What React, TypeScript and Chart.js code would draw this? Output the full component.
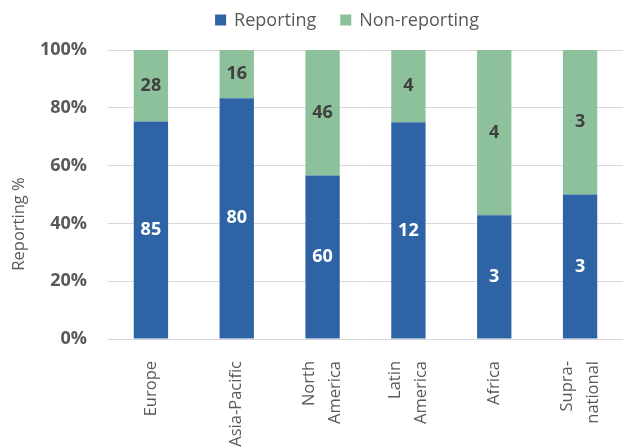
import React, { useEffect, useRef } from "react";
import { Chart, registerables } from "chart.js";

Chart.register(...registerables);

const categories: string[][] = [
  ["Europe"],
  ["Asia-Pacific"],
  ["North", "America"],
  ["Latin", "America"],
  ["Africa"],
  ["Supra-", "national"],
];
const reportingCounts = [85, 80, 60, 12, 3, 3];
const nonReportingCounts = [28, 16, 46, 4, 4, 3];
const seriesNames = ["Reporting", "Non-reporting"];
const yAxisTitle = "Reporting %";

const BLUE = "#2E64A6";
const GREEN = "#8CC19B";
const FONT = "'Open Sans', sans-serif";

const totals = reportingCounts.map((r, i) => r + nonReportingCounts[i]);
const reportingPct = reportingCounts.map((r, i) => (r / totals[i]) * 100);
const nonReportingPct = nonReportingCounts.map((n, i) => (n / totals[i]) * 100);

const countLabels = {
  id: "countLabels",
  afterDatasetsDraw(chart: any) {
    const ctx = chart.ctx;
    const counts = [reportingCounts, nonReportingCounts];
    chart.data.datasets.forEach((_: any, di: number) => {
      const meta = chart.getDatasetMeta(di);
      meta.data.forEach((el: any, i: number) => {
        const y = (el.y + el.base) / 2;
        ctx.save();
        ctx.font = `bold 18px ${FONT}`;
        ctx.fillStyle = di === 0 ? "#ffffff" : "#404040";
        ctx.textAlign = "center";
        ctx.textBaseline = "middle";
        ctx.fillText(String(counts[di][i]), el.x, y);
        ctx.restore();
      });
    });
  },
};

const customText = {
  id: "customText",
  afterDraw(chart: any) {
    const ctx = chart.ctx;
    ctx.save();
    // legend
    ctx.font = `18px ${FONT}`;
    ctx.textBaseline = "middle";
    const colors = [BLUE, GREEN];
    const box = 11;
    const gapText = 8;
    const gapItem = 24;
    const widths = seriesNames.map((s) => ctx.measureText(s).width);
    const total =
      widths.reduce((a, b) => a + b, 0) + seriesNames.length * (box + gapText) + gapItem * (seriesNames.length - 1);
    let x = 347 - total / 2;
    const cy = 20;
    seriesNames.forEach((s, i) => {
      ctx.fillStyle = colors[i];
      ctx.fillRect(x, cy - box / 2, box, box);
      x += box + gapText;
      ctx.fillStyle = "#595959";
      ctx.textAlign = "left";
      ctx.fillText(s, x, cy + 1);
      x += widths[i] + gapItem;
    });
    ctx.restore();

    // y-axis title
    ctx.save();
    ctx.font = `16.5px ${FONT}`;
    ctx.translate(19, 224);
    ctx.rotate(-Math.PI / 2);
    ctx.textAlign = "center";
    ctx.textBaseline = "middle";
    ctx.fillStyle = "#595959";
    ctx.fillText(yAxisTitle, 0, 0);
    ctx.restore();

    // category labels (rotated, multi-line centred on the bar)
    const xScale = chart.scales.x;
    const lineH = 26;
    const topY = chart.chartArea.bottom + 22;
    categories.forEach((lines, i) => {
      const px = xScale.getPixelForTick(i);
      lines.forEach((line, j) => {
        const off = (j - (lines.length - 1) / 2) * lineH;
        ctx.save();
        ctx.font = `16.5px ${FONT}`;
        ctx.fillStyle = "#595959";
        ctx.translate(px + off, topY);
        ctx.rotate(-Math.PI / 2);
        ctx.textAlign = "right";
        ctx.textBaseline = "middle";
        ctx.fillText(line, 0, 0);
        ctx.restore();
      });
    });
  },
};

export default function App() {
  const ref = useRef<HTMLCanvasElement>(null);
  useEffect(() => {
    if (!ref.current) return;
    const chart = new Chart(ref.current, {
      type: "bar",
      data: {
        labels: categories,
        datasets: [
          {
            label: seriesNames[0],
            data: reportingPct,
            backgroundColor: BLUE,
            categoryPercentage: 1,
            barPercentage: 0.4,
          },
          {
            label: seriesNames[1],
            data: nonReportingPct,
            backgroundColor: GREEN,
            categoryPercentage: 1,
            barPercentage: 0.4,
          },
        ],
      },
      options: {
        responsive: false,
        animation: false,
        layout: { padding: { top: 50, right: 0, left: 0, bottom: 0 } },
        plugins: {
          legend: { display: false },
          tooltip: { enabled: false },
        },
        scales: {
          x: {
            stacked: true,
            grid: { display: false },
            border: { display: false },
            ticks: { display: false },
            afterFit(scale: any) {
              scale.height = 109;
              scale.paddingLeft = 0;
              scale.paddingRight = 0;
            },
          },
          y: {
            stacked: true,
            min: 0,
            max: 100,
            border: { display: false },
            grid: { color: "#d9d9d9", lineWidth: 1, drawTicks: false },
            ticks: {
              stepSize: 20,
              color: "#595959",
              font: { family: FONT, size: 18, weight: "bold" },
              padding: 21,
              callback: (v: any) => v + "%",
            },
            afterFit(scale: any) {
              scale.width = 108;
            },
          },
        },
      },
      plugins: [countLabels, customText],
    });
    return () => chart.destroy();
  }, []);
  return (
    <div style={{ position: "fixed", left: 0, top: 0, width: 623, height: 448, background: "#fff" }}>
      <canvas ref={ref} width={623} height={448} />
    </div>
  );
}
